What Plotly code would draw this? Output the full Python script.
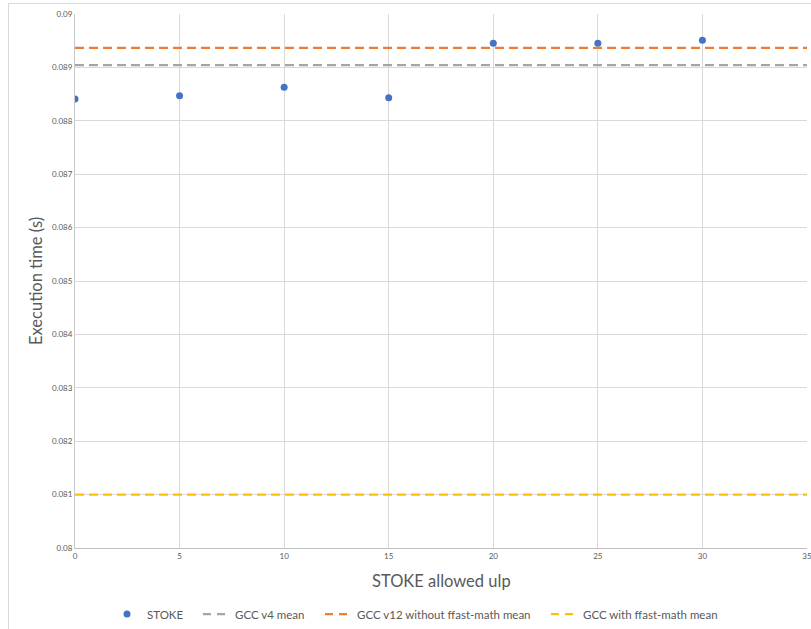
import plotly.graph_objects as go

ulp = [0, 5, 10, 15, 20, 25, 30]
stoke_time = [0.08841, 0.08847, 0.08863, 0.08843, 0.08945, 0.08945, 0.08951]
gcc_v4_mean = 0.089045
gcc_v12_no_fastmath_mean = 0.089365
gcc_fastmath_mean = 0.081
x_range = [0, 35]
y_ticks = [0.08, 0.081, 0.082, 0.083, 0.084, 0.085, 0.086, 0.087, 0.088, 0.089, 0.09]
y_tick_labels = ["0.08", "0.081", "0.082", "0.083", "0.084", "0.085", "0.086", "0.087", "0.088", "0.089", "0.09"]

series_names = ["STOKE", "GCC v4 mean", "GCC v12 without ffast-math mean", "GCC with ffast-math mean"]
colors = ["#4472C4", "#A5A5A5", "#ED7D31", "#FFC000"]
mean_values = [gcc_v4_mean, gcc_v12_no_fastmath_mean, gcc_fastmath_mean]

W, H = 811, 629
L, R, T, B = 75, 4, 14, 81
legend_text_px = [147, 235, 357, 583]   # left edge of each legend label
legend_y_px = 614

fig = go.Figure()
fig.add_trace(go.Scatter(x=ulp, y=stoke_time, mode="markers", name=series_names[0],
                         marker=dict(color=colors[0], size=7), legend="legend"))
for i, val in enumerate(mean_values):
    fig.add_trace(go.Scatter(x=x_range, y=[val] * 2, mode="lines", name=series_names[i + 1],
                             line=dict(color=colors[i + 1], width=2.25, dash="9px,5px"),
                             showlegend=False, legendgroup=f"g{i}"))
    # legend entry (symbol drawn with a 2-dash pattern like the reference)
    fig.add_trace(go.Scatter(x=[None], y=[None], mode="lines", name=series_names[i + 1],
                             line=dict(color=colors[i + 1], width=2.25, dash="0px,3px,8px,6px,8px,40px"),
                             legendgroup=f"g{i}", legend=f"legend{i + 2}"))

legend_common = dict(orientation="h", xref="container", yref="container", xanchor="left",
                     yanchor="middle", font=dict(size=11.5, color="#595959"),
                     bgcolor="rgba(0,0,0,0)", borderwidth=0, itemwidth=30)
legends = {}
for i, px in enumerate(legend_text_px):
    key = "legend" if i == 0 else f"legend{i + 1}"
    legends[key] = dict(legend_common, x=(px - 40) / W, y=1 - legend_y_px / H)

fig.update_layout(
    width=W, height=H,
    margin=dict(l=L, r=R, t=T, b=B, autoexpand=False),
    plot_bgcolor="white", paper_bgcolor="white",
    font=dict(family="Lato, Open Sans, sans-serif", color="#595959"),
    showlegend=True,
    xaxis=dict(range=x_range, dtick=5, tick0=0, showgrid=True, gridcolor="#D9D9D9",
               showline=True, linecolor="#BFBFBF", linewidth=1, zeroline=False,
               tickfont=dict(size=8, color="#595959"), ticks="", automargin=False,
               ticklabeloverflow="allow"),
    yaxis=dict(range=[0.08, 0.09], tickvals=y_ticks, ticktext=y_tick_labels,
               showgrid=True, gridcolor="#D9D9D9", showline=True, linecolor="#C8C8C8",
               zeroline=False, tickfont=dict(size=8, color="#595959"), ticks="",
               automargin=False),
    annotations=[
        dict(text="STOKE allowed ulp", xref="paper", yref="paper", x=0.5,
             y=(H - B - 581) / (H - T - B), showarrow=False, xanchor="center", yanchor="middle",
             font=dict(size=16.5, color="#595959")),
        dict(text="Execution time (s)", xref="paper", yref="paper", x=(36 - L) / (W - L - R),
             y=0.5, textangle=-90, showarrow=False, xanchor="center", yanchor="middle",
             font=dict(size=16.5, color="#595959")),
    ],
    shapes=[
        dict(type="line", xref="paper", yref="paper", x0=(8.5 - L) / (W - L - R), x1=(8.5 - L) / (W - L - R),
             y0=-0.2, y1=(H - B - 3.5) / (H - T - B), line=dict(color="#D9D9D9", width=1)),
        dict(type="line", xref="paper", yref="paper", x0=(8.5 - L) / (W - L - R), x1=1.1,
             y0=(H - B - 3.5) / (H - T - B), y1=(H - B - 3.5) / (H - T - B),
             line=dict(color="#D9D9D9", width=1)),
    ],
    **legends,
)

fig.write_html("out.html", config={"displayModeBar": False},
               post_script="document.body.style.margin='0';document.body.style.overflow='hidden';")
